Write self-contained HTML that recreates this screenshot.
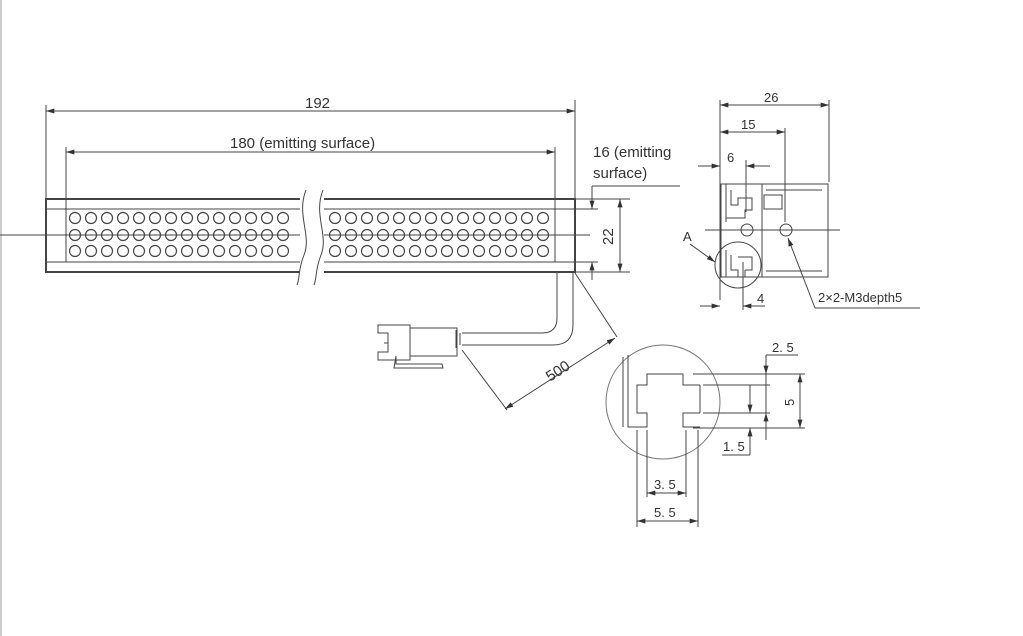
<!DOCTYPE html>
<html><head><meta charset="utf-8"><style>
html,body{margin:0;padding:0;background:#fff;}
svg{display:block;}
text{font-family:"Liberation Sans",Arial,sans-serif;fill:#333;}
</style></head><body>
<svg width="1023" height="636" viewBox="0 0 1023 636" xmlns="http://www.w3.org/2000/svg">
<defs>
<marker id="a" viewBox="0 0 10 6" refX="10" refY="3" markerWidth="10" markerHeight="5" orient="auto-start-reverse" markerUnits="userSpaceOnUse"><path d="M0,0 L10,3 L0,6z" fill="#333"/></marker>
</defs>
<rect x="0" y="0" width="1023" height="636" fill="#fff"/>
<line x1="1" y1="0" x2="1" y2="636" stroke="#999" stroke-width="1"/>
<g stroke="#444" stroke-width="1" fill="none">
<!-- bar -->
<rect x="46" y="199" width="529" height="73" stroke-width="2"/>
<line x1="46" y1="209" x2="575" y2="209"/>
<line x1="46" y1="262" x2="575" y2="262"/>
<line x1="66" y1="209" x2="66" y2="262"/>
<line x1="555" y1="209" x2="555" y2="262"/>
<line x1="0" y1="235" x2="590" y2="235"/>
<!-- break -->
<rect x="300" y="190" width="24" height="95" fill="#fff" stroke="none"/>
<path d="M306,190 C296,215 312,235 304,255 C298,270 300,278 297,285"/>
<path d="M323,190 C313,215 329,235 321,255 C315,270 317,278 314,285"/>
<!-- dims top -->
<line x1="46" y1="105" x2="46" y2="199"/>
<line x1="575" y1="100" x2="575" y2="199"/>
<line x1="46" y1="111" x2="575" y2="111" marker-start="url(#a)" marker-end="url(#a)"/>
<line x1="66" y1="147" x2="66" y2="209"/>
<line x1="555" y1="147" x2="555" y2="209"/>
<line x1="66" y1="152" x2="555" y2="152" marker-start="url(#a)" marker-end="url(#a)"/>
<!-- 16/22 dims -->
<line x1="575" y1="199" x2="630" y2="199"/>
<line x1="575" y1="272" x2="630" y2="272"/>
<line x1="575" y1="209" x2="598" y2="209"/>
<line x1="575" y1="262" x2="598" y2="262"/>
<line x1="620" y1="199" x2="620" y2="272" marker-start="url(#a)" marker-end="url(#a)"/>
<line x1="592" y1="186" x2="680" y2="186"/>
<line x1="592" y1="186" x2="592" y2="209" marker-end="url(#a)"/>
<line x1="592" y1="280" x2="592" y2="262" marker-end="url(#a)"/>
<!-- cable -->
<path d="M573,272 L573,325 Q573,345 553,345 L462,345"/>
<path d="M557,272 L557,318 Q557,333 542,333 L462,333"/>
<!-- connector -->
<path d="M460,333 L460,345 M456,330 L456,348"/>
<path d="M378,325 L410,325 L410,360 L378,360 L378,352 L388,352 L388,333 L378,333 Z"/>
<rect x="410" y="328" width="47" height="28"/>
<path d="M396,356 L396,364 L442,364 L443,368 L394,368 Z"/>
<line x1="384" y1="343" x2="388" y2="343"/>
<!-- 500 dim -->
<line x1="575" y1="273" x2="617" y2="337"/>
<line x1="462" y1="350" x2="507" y2="410"/>
<line x1="505" y1="409" x2="615" y2="338" marker-start="url(#a)" marker-end="url(#a)"/>
</g>
<g fill="none" stroke="#444" stroke-width="1.2">
<g id="rowsL"></g>
</g>
<g fill="#fff" stroke="#444" stroke-width="1.2" id="circ"></g>
<g font-size="15">
<text x="305" y="108">192</text>
<text x="230" y="148">180 (emitting surface)</text>
<text x="593" y="157">16 (emitting</text>
<text x="593" y="178">surface)</text>
<text x="0" y="0" transform="translate(613,245) rotate(-90)">22</text>
<text x="0" y="0" transform="translate(550,382) rotate(-33)">500</text>
</g>
<!-- side view -->
<g stroke="#444" stroke-width="1" fill="none">
<line x1="720" y1="100" x2="720" y2="300"/>
<line x1="829" y1="100" x2="829" y2="182"/>
<line x1="720" y1="105" x2="829" y2="105" marker-start="url(#a)" marker-end="url(#a)"/>
<line x1="785" y1="128" x2="785" y2="222"/>
<line x1="720" y1="132" x2="785" y2="132" marker-start="url(#a)" marker-end="url(#a)"/>
<line x1="746" y1="160" x2="746" y2="212"/>
<line x1="698" y1="166" x2="720" y2="166" marker-end="url(#a)"/>
<line x1="770" y1="166" x2="746" y2="166" marker-end="url(#a)"/>
<rect x="721" y="184" width="107" height="93"/>
<line x1="762" y1="184" x2="762" y2="277"/>
<line x1="766" y1="190" x2="822" y2="190"/>
<line x1="766" y1="271" x2="822" y2="271"/>
<rect x="764" y="195" width="18" height="14"/>
<path d="M726,184 L726,222 M731,190 L731,205 L738,205 L738,198 L752,198 L752,210 L745,210 L745,218 L726,218"/>
<path d="M726,250 L726,277 M731,255 L731,270 L738,270 L738,277 M745,270 L745,277 M738,257 L752,257 L752,270 L745,270"/>
<line x1="705" y1="230" x2="840" y2="230"/>
<circle cx="747" cy="230" r="6"/>
<circle cx="786" cy="230" r="6"/>
<circle cx="738" cy="265" r="23"/>
<line x1="690" y1="244" x2="715" y2="262" marker-end="url(#a)"/>
<line x1="743" y1="262" x2="743" y2="310"/>
<line x1="700" y1="306" x2="720" y2="306" marker-end="url(#a)"/>
<line x1="765" y1="306" x2="743" y2="306" marker-end="url(#a)"/>
<line x1="815" y1="308" x2="788" y2="238" marker-end="url(#a)"/>
<line x1="815" y1="308" x2="920" y2="308"/>
</g>
<g font-size="13">
<text x="764" y="102">26</text>
<text x="741" y="129">15</text>
<text x="727" y="162">6</text>
<text x="683" y="241">A</text>
<text x="757" y="303">4</text>
<text x="818" y="302">2×2-M3depth5</text>
</g>
<!-- detail -->
<g stroke="#444" stroke-width="1" fill="none">
<circle cx="663" cy="402" r="57" stroke="#777"/>
<line x1="623" y1="357" x2="623" y2="427"/>
<path d="M628,355 L628,427 L647,427 L647,413 L637,413 L637,385 L647,385 L647,374 L683,374 L683,385 L700,385 M700,413 L683,413 L683,427 L700,427"/>
<line x1="693" y1="374" x2="805" y2="374"/>
<line x1="703" y1="385" x2="770" y2="385"/>
<line x1="703" y1="413" x2="770" y2="413"/>
<line x1="693" y1="428" x2="805" y2="428"/>
<line x1="700" y1="385" x2="700" y2="413"/>
<line x1="800" y1="374" x2="800" y2="428" marker-start="url(#a)" marker-end="url(#a)"/>
<line x1="766" y1="355" x2="766" y2="374" marker-end="url(#a)"/>
<line x1="766" y1="440" x2="766" y2="413" marker-end="url(#a)"/>
<line x1="766" y1="374" x2="766" y2="413"/>
<line x1="766" y1="355" x2="798" y2="355"/>
<line x1="750" y1="385" x2="750" y2="413" marker-end="url(#a)"/>
<line x1="750" y1="455" x2="750" y2="428" marker-end="url(#a)"/>
<line x1="722" y1="455" x2="750" y2="455"/>
<line x1="647" y1="430" x2="647" y2="497"/>
<line x1="686" y1="430" x2="686" y2="497"/>
<line x1="647" y1="493" x2="686" y2="493" marker-start="url(#a)" marker-end="url(#a)"/>
<line x1="637" y1="430" x2="637" y2="527"/>
<line x1="698" y1="430" x2="698" y2="527"/>
<line x1="637" y1="521" x2="698" y2="521" marker-start="url(#a)" marker-end="url(#a)"/>
</g>
<g font-size="13">
<text x="772" y="352">2. 5</text>
<text x="0" y="0" transform="translate(794,406) rotate(-90)">5</text>
<text x="723" y="451">1. 5</text>
<text x="654" y="489">3. 5</text>
<text x="654" y="517">5. 5</text>
</g>
<g fill="none" stroke="#444" stroke-width="1.2">
<!-- left circles -->
<circle cx="75" cy="218" r="5.5"/><circle cx="75" cy="235" r="5.5"/><circle cx="75" cy="251" r="5.5"/>
<circle cx="91" cy="218" r="5.5"/><circle cx="91" cy="235" r="5.5"/><circle cx="91" cy="251" r="5.5"/>
<circle cx="107" cy="218" r="5.5"/><circle cx="107" cy="235" r="5.5"/><circle cx="107" cy="251" r="5.5"/>
<circle cx="123" cy="218" r="5.5"/><circle cx="123" cy="235" r="5.5"/><circle cx="123" cy="251" r="5.5"/>
<circle cx="139" cy="218" r="5.5"/><circle cx="139" cy="235" r="5.5"/><circle cx="139" cy="251" r="5.5"/>
<circle cx="155" cy="218" r="5.5"/><circle cx="155" cy="235" r="5.5"/><circle cx="155" cy="251" r="5.5"/>
<circle cx="171" cy="218" r="5.5"/><circle cx="171" cy="235" r="5.5"/><circle cx="171" cy="251" r="5.5"/>
<circle cx="187" cy="218" r="5.5"/><circle cx="187" cy="235" r="5.5"/><circle cx="187" cy="251" r="5.5"/>
<circle cx="203" cy="218" r="5.5"/><circle cx="203" cy="235" r="5.5"/><circle cx="203" cy="251" r="5.5"/>
<circle cx="219" cy="218" r="5.5"/><circle cx="219" cy="235" r="5.5"/><circle cx="219" cy="251" r="5.5"/>
<circle cx="235" cy="218" r="5.5"/><circle cx="235" cy="235" r="5.5"/><circle cx="235" cy="251" r="5.5"/>
<circle cx="251" cy="218" r="5.5"/><circle cx="251" cy="235" r="5.5"/><circle cx="251" cy="251" r="5.5"/>
<circle cx="267" cy="218" r="5.5"/><circle cx="267" cy="235" r="5.5"/><circle cx="267" cy="251" r="5.5"/>
<circle cx="283" cy="218" r="5.5"/><circle cx="283" cy="235" r="5.5"/><circle cx="283" cy="251" r="5.5"/>
<!-- right circles -->
<circle cx="335" cy="218" r="5.5"/><circle cx="335" cy="235" r="5.5"/><circle cx="335" cy="251" r="5.5"/>
<circle cx="351" cy="218" r="5.5"/><circle cx="351" cy="235" r="5.5"/><circle cx="351" cy="251" r="5.5"/>
<circle cx="367" cy="218" r="5.5"/><circle cx="367" cy="235" r="5.5"/><circle cx="367" cy="251" r="5.5"/>
<circle cx="383" cy="218" r="5.5"/><circle cx="383" cy="235" r="5.5"/><circle cx="383" cy="251" r="5.5"/>
<circle cx="399" cy="218" r="5.5"/><circle cx="399" cy="235" r="5.5"/><circle cx="399" cy="251" r="5.5"/>
<circle cx="415" cy="218" r="5.5"/><circle cx="415" cy="235" r="5.5"/><circle cx="415" cy="251" r="5.5"/>
<circle cx="431" cy="218" r="5.5"/><circle cx="431" cy="235" r="5.5"/><circle cx="431" cy="251" r="5.5"/>
<circle cx="447" cy="218" r="5.5"/><circle cx="447" cy="235" r="5.5"/><circle cx="447" cy="251" r="5.5"/>
<circle cx="463" cy="218" r="5.5"/><circle cx="463" cy="235" r="5.5"/><circle cx="463" cy="251" r="5.5"/>
<circle cx="479" cy="218" r="5.5"/><circle cx="479" cy="235" r="5.5"/><circle cx="479" cy="251" r="5.5"/>
<circle cx="495" cy="218" r="5.5"/><circle cx="495" cy="235" r="5.5"/><circle cx="495" cy="251" r="5.5"/>
<circle cx="511" cy="218" r="5.5"/><circle cx="511" cy="235" r="5.5"/><circle cx="511" cy="251" r="5.5"/>
<circle cx="527" cy="218" r="5.5"/><circle cx="527" cy="235" r="5.5"/><circle cx="527" cy="251" r="5.5"/>
<circle cx="543" cy="218" r="5.5"/><circle cx="543" cy="235" r="5.5"/><circle cx="543" cy="251" r="5.5"/>
</g>
</svg>
</body></html>
